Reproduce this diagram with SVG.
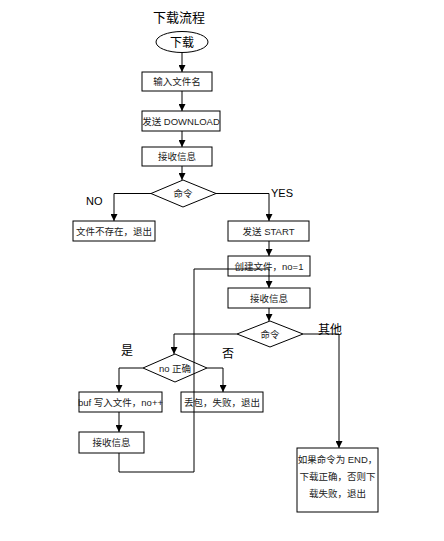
<svg xmlns="http://www.w3.org/2000/svg" width="444" height="541" viewBox="0 0 444 541">
<defs>
<marker id="ah" viewBox="0 0 8 8" refX="8" refY="4" markerWidth="7" markerHeight="7" markerUnits="userSpaceOnUse" orient="auto">
<path d="M0,0 L8,4 L0,8 Z" fill="#000"/>
</marker>
<style>
.box{fill:#fff;stroke:#000;stroke-width:1}
.ln{fill:none;stroke:#000;stroke-width:1}
.t{font-family:"Liberation Sans","Noto Sans CJK SC",sans-serif;font-size:9.5px;fill:#222;text-anchor:middle;dominant-baseline:central}
.lb{font-family:"Liberation Sans","Noto Sans CJK SC",sans-serif;fill:#000}
</style>
</defs>
<rect width="444" height="541" fill="#fff"/>
<text class="lb" x="179" y="22" font-size="13" text-anchor="middle">下载流程</text>
<g id="start"><ellipse cx="182" cy="42" rx="26" ry="10.5" class="box"/><text class="lb" x="182" y="46.5" font-size="12" text-anchor="middle">下载</text></g>
<g id="n1"><rect class="box" x="142" y="72" width="70" height="19"/><text class="t" x="177" y="81.5">输入文件名</text></g>
<g id="n2"><rect class="box" x="142" y="111" width="78" height="20"/><text class="t" x="181" y="121">发送 DOWNLOAD</text></g>
<g id="n3"><rect class="box" x="142" y="147" width="70" height="19"/><text class="t" x="177" y="156.5">接收信息</text></g>
<g id="d1"><polygon class="box" points="151,193.5 183,180 216,193.5 183,207"/><text class="t" x="183" y="193.5">命令</text></g>
<g id="n4"><rect class="box" x="73" y="221" width="82" height="20"/><text class="t" x="114" y="231">文件不存在，退出</text></g>
<g id="n5"><rect class="box" x="228" y="221" width="81" height="20"/><text class="t" x="268.5" y="231">发送 START</text></g>
<g id="n6"><rect class="box" x="228" y="256" width="82" height="20"/><text class="t" x="269" y="266">创建文件，no=1</text></g>
<g id="n7"><rect class="box" x="228" y="288" width="82" height="20"/><text class="t" x="269" y="298">接收信息</text></g>
<g id="d2"><polygon class="box" points="237,334 270,321 303,334 270,347"/><text class="t" x="270" y="334">命令</text></g>
<g id="d3"><polygon class="box" points="143,368 175,354 207,368 175,382"/><text class="t" x="175" y="368">no 正确</text></g>
<g id="n8"><rect class="box" x="79" y="392" width="83" height="20"/><text class="t" x="120.5" y="402">buf 写入文件，no++</text></g>
<g id="n9"><rect class="box" x="181" y="392" width="82" height="20"/><text class="t" x="222" y="402">丢包，失败，退出</text></g>
<g id="n10"><rect class="box" x="79" y="432" width="65" height="21"/><text class="t" x="111.5" y="442.5">接收信息</text></g>
<g id="n11"><rect class="box" x="297" y="448" width="81" height="64"/>
<text class="t" x="337.5" y="459">如果命令为 END，</text>
<text class="t" x="337.5" y="476">下载正确，否则下</text>
<text class="t" x="337.5" y="493">载失败，退出</text></g>
<g id="connectors">
<line class="ln" x1="182" y1="52.5" x2="182" y2="72" marker-end="url(#ah)"/>
<line class="ln" x1="182" y1="91" x2="182" y2="111" marker-end="url(#ah)"/>
<line class="ln" x1="182" y1="131" x2="182" y2="147" marker-end="url(#ah)"/>
<line class="ln" x1="182" y1="166" x2="182" y2="180" marker-end="url(#ah)"/>
<polyline class="ln" points="151,193.5 114,193.5 114,221" marker-end="url(#ah)"/>
<polyline class="ln" points="216,193.5 269,193.5 269,221" marker-end="url(#ah)"/>
<line class="ln" x1="269" y1="241" x2="269" y2="256" marker-end="url(#ah)"/>
<line class="ln" x1="269" y1="269" x2="269" y2="288" marker-end="url(#ah)"/>
<line class="ln" x1="269" y1="308" x2="269" y2="321" marker-end="url(#ah)"/>
<polyline class="ln" points="237,334 174,334 174,354" marker-end="url(#ah)"/>
<polyline class="ln" points="303,334 339,334 339,448" marker-end="url(#ah)"/>
<polyline class="ln" points="143,368 119,368 119,392" marker-end="url(#ah)"/>
<polyline class="ln" points="207,368 223,368 223,392" marker-end="url(#ah)"/>
<line class="ln" x1="119" y1="412" x2="119" y2="432" marker-end="url(#ah)"/>
<polyline class="ln" points="119,453 119,472 194,472 194,269 269,269"/>
</g>
<g id="labels">
<text class="lb" x="86" y="205" font-size="11">NO</text>
<text class="lb" x="271" y="197" font-size="11">YES</text>
<text class="lb" x="127" y="355" font-size="12" text-anchor="middle">是</text>
<text class="lb" x="228" y="358" font-size="12" text-anchor="middle">否</text>
<text class="lb" x="330" y="334" font-size="12" text-anchor="middle">其他</text>
</g>
</svg>
